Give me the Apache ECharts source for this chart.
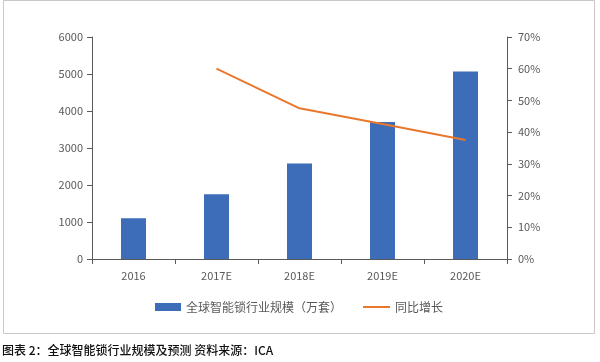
<!DOCTYPE html>
<html><head><meta charset="utf-8">
<script src="https://cdn.jsdelivr.net/npm/echarts@6/dist/echarts.min.js"></script>
<style>html,body{margin:0;padding:0;background:#fff}#c{width:600px;height:362px}</style>
</head><body><div id="c"></div>
<script>
const categories = ['2016', '2017E', '2018E', '2019E', '2020E'];
const marketSize = [1100, 1750, 2580, 3700, 5070];
const growthRate = [null, 60, 47.5, 42.6, 37.5];
const barName = '全球智能锁行业规模（万套）';
const lineName = '同比增长';
const caption = '图表 2：全球智能锁行业规模及预测 资料来源：ICA';

const font = '"Microsoft YaHei","Noto Sans CJK SC",sans-serif';
const txt = '#595959';
const axisLine = { show: true, lineStyle: { color: '#595959', width: 1 } };
const chart = echarts.init(document.getElementById('c'));
chart.setOption({
  animation: false,
  textStyle: { fontFamily: font },
  grid: { left: 92, right: 93, top: 37, bottom: 103 },
  legend: [{
    left: 150, top: 296, itemWidth: 26, itemHeight: 8,
    textStyle: { color: txt, fontSize: 12, fontFamily: font },
    data: [{ name: barName, icon: 'rect' }]
  }, {
    left: 358, top: 296, itemWidth: 27, itemHeight: 2,
    textStyle: { color: txt, fontSize: 12, fontFamily: font },
    data: [{ name: lineName, icon: 'rect' }]
  }],
  xAxis: {
    type: 'category', data: categories,
    axisLine: axisLine,
    axisTick: { show: true, length: 5, lineStyle: { color: '#595959' } },
    axisLabel: { color: txt, fontSize: 11, margin: 11 }
  },
  yAxis: [{
    type: 'value', min: 0, max: 6000, interval: 1000,
    axisLine: axisLine,
    axisTick: { show: true, length: 5, lineStyle: { color: '#595959' } },
    axisLabel: { color: txt, fontSize: 11, margin: 9, formatter: v => String(v) },
    splitLine: { show: false }
  }, {
    type: 'value', min: 0, max: 70, interval: 10, position: 'right',
    axisLine: axisLine,
    axisTick: { show: true, length: 5, lineStyle: { color: '#595959' } },
    axisLabel: { color: txt, fontSize: 11, margin: 11, formatter: '{value}%' },
    splitLine: { show: false }
  }],
  series: [{
    name: barName, type: 'bar', data: marketSize, barWidth: 25,
    itemStyle: { color: '#3D6DB8' }
  }, {
    name: lineName, type: 'line', yAxisIndex: 1, data: growthRate,
    symbol: 'none', connectNulls: false,
    lineStyle: { color: '#E8782C', width: 2 }, itemStyle: { color: '#E8782C' }
  }],
  graphic: [{
    type: 'rect', shape: { x: 3.5, y: 0.5, width: 591, height: 333 },
    style: { fill: 'none', stroke: '#c8c8c8', lineWidth: 1 }, silent: true
  }, {
    type: 'text', left: 2, top: 344,
    style: { text: caption, fontSize: 12, fontWeight: 500, fill: '#111', fontFamily: font }
  }]
});
</script></body></html>
